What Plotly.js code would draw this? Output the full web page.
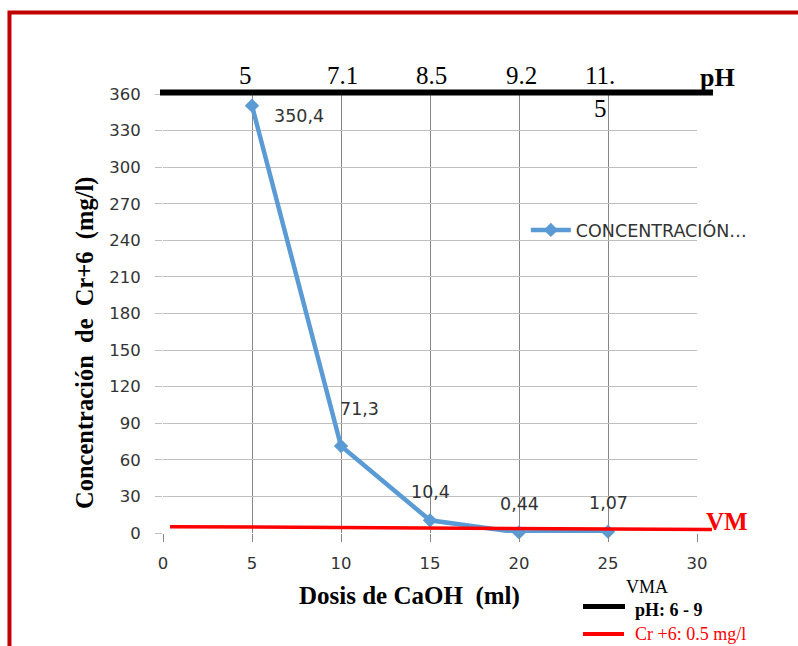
<!DOCTYPE html>
<html>
<head>
<meta charset="utf-8">
<script src="https://cdn.plot.ly/plotly-3.0.1.min.js"></script>
<style>
html,body{margin:0;padding:0;background:#fff;}
#chart{width:798px;height:646px;}
</style>
</head>
<body>
<div id="chart"></div>
<script>
// ---- data ----
const doseMl = [5, 10, 15, 20, 25];
const crConc = [350.4, 71.3, 10.4, 0.44, 1.07];
const phValues = ['5', '7.1', '8.5', '9.2', '11.<br>5'];
const seriesName = 'CONCENTRACIÓN…';
const vmaCrDrawn = [5.2, 2.9];          // red VM line as drawn (left end, right end), mg/l
const xTickVals = [0, 5, 10, 15, 20, 25, 30];
const yTickVals = [0, 30, 60, 90, 120, 150, 180, 210, 240, 270, 300, 330, 360];

// ---- styling helpers ----
const SANS = 'DejaVu Sans';
const SERIF = 'Liberation Serif';
const labelShift = [[46.5, -10.7], [18.5, 37], [0.5, 28], [0, 28.5], [0, 28.7]];
const phShift = [-7, 1.5, 1, 2.5, -8];

const fmt = v => String(v).replace('.', ',');

const trace = {
  type: 'scatter',
  mode: 'lines+markers',
  x: doseMl,
  y: crConc,
  name: seriesName,
  line: {color: '#5B9BD5', width: 4.5},
  marker: {symbol: 'diamond', size: 11, color: '#5B9BD5'},
  cliponaxis: false,
  hoverinfo: 'skip'
};

const annotations = [];
doseMl.forEach((d, i) => {
  annotations.push({
    x: d, y: crConc[i], xref: 'x', yref: 'y',
    text: fmt(crConc[i]), showarrow: false,
    xshift: labelShift[i][0], yshift: labelShift[i][1],
    xanchor: 'center', yanchor: 'middle',
    font: {family: SANS, size: 17.5, color: '#333'}
  });
  annotations.push({
    x: d, y: 1, xref: 'x', yref: 'paper',
    text: phValues[i], showarrow: false,
    xshift: phShift[i], yshift: 34,
    xanchor: 'center', yanchor: 'top',
    font: {family: SERIF, size: 25, color: '#000'}
  });
});

// extra text
annotations.push(
  {x: 1.0375, y: 1.0387, xref: 'paper', yref: 'paper', text: '<b>pH</b>', showarrow: false,
   xanchor: 'center', yanchor: 'middle', font: {family: SERIF, size: 26, color: '#000'}},
  {x: 1.057, y: 0.0251, xref: 'paper', yref: 'paper', text: '<b>VM</b>', showarrow: false,
   xanchor: 'center', yanchor: 'middle', font: {family: SERIF, size: 25, color: '#FF0000'}},
  {x: 0.9064, y: -0.123, xref: 'paper', yref: 'paper', text: 'VMA', showarrow: false,
   xanchor: 'center', yanchor: 'middle', font: {family: SERIF, size: 18, color: '#000'}},
  {x: 0.8801, y: -0.1754, xref: 'paper', yref: 'paper', text: '<b>pH: 6 - 9</b>', showarrow: false,
   xanchor: 'left', yanchor: 'middle', font: {family: SERIF, size: 18, color: '#000'}},
  {x: 0.8801, y: -0.2301, xref: 'paper', yref: 'paper', text: 'Cr +6: 0.5 mg/l', showarrow: false,
   xanchor: 'left', yanchor: 'middle', font: {family: SERIF, size: 18, color: '#FF0000'}},
  {x: -0.1451, y: 0.4317, xref: 'paper', yref: 'paper',
   text: '<b>Concentración\u00A0 de\u00A0 Cr+6\u00A0 (mg/l)</b>', showarrow: false, textangle: -90,
   xanchor: 'center', yanchor: 'middle', font: {family: SERIF, size: 24.5, color: '#000'}},
  {x: 0.4625, y: -0.1435, xref: 'paper', yref: 'paper',
   text: '<b>Dosis de CaOH\u00A0 (ml)</b>', showarrow: false,
   xanchor: 'center', yanchor: 'middle', font: {family: SERIF, size: 25, color: '#000'}}
);

const shapes = [
  // outer red frame
  {type: 'rect', xref: 'paper', yref: 'paper', x0: -0.2875, x1: 1.2303, y0: -0.2893, y1: 1.1856,
   line: {color: '#C00000', width: 4}, fillcolor: 'rgba(0,0,0,0)', layer: 'below'},
  // pH bar at top
  {type: 'line', xref: 'paper', yref: 'paper', x0: -0.0056, x1: 1.03, y0: 1.0034, y1: 1.0034,
   line: {color: '#000', width: 6}},
  // red VM line
  {type: 'line', xref: 'paper', yref: 'y', x0: 0.0131, x1: 1.028, y0: vmaCrDrawn[0], y1: vmaCrDrawn[1],
   line: {color: '#FF0000', width: 3.5}},
  // VMA legend keys
  {type: 'line', xref: 'paper', yref: 'paper', x0: 0.7865, x1: 0.8652, y0: -0.1674, y1: -0.1674,
   line: {color: '#000', width: 5}},
  {type: 'line', xref: 'paper', yref: 'paper', x0: 0.7865, x1: 0.8633, y0: -0.2301, y1: -0.2301,
   line: {color: '#FF0000', width: 4}}
];

const layout = {
  width: 798, height: 646,
  margin: {l: 163, r: 101, t: 94, b: 113, pad: 0},
  paper_bgcolor: '#fff', plot_bgcolor: '#fff',
  showlegend: true,
  legend: {x: 0.6795, y: 0.69, xanchor: 'left', yanchor: 'middle', bgcolor: 'rgba(0,0,0,0)',
           itemwidth: 40,
           font: {family: SANS, size: 17.5, color: '#333'}},
  xaxis: {
    range: [0, 30], tickvals: xTickVals, showgrid: true, gridcolor: '#868686', gridwidth: 1,
    zeroline: false, showline: false, ticks: 'outside', ticklen: 8, tickcolor: '#868686',
    ticklabelstandoff: 7, tickfont: {family: SANS, size: 16.5, color: '#333'}, fixedrange: true
  },
  yaxis: {
    range: [0, 360], tickvals: yTickVals, showgrid: true, gridcolor: '#BFBFBF', gridwidth: 1,
    zeroline: false, showline: false, ticks: 'outside', ticklen: 7, tickcolor: '#BFBFBF',
    ticklabelstandoff: 11, tickfont: {family: SANS, size: 16.5, color: '#333'}, fixedrange: true
  },
  annotations: annotations,
  shapes: shapes,
  hovermode: false
};

Plotly.newPlot('chart', [trace], layout, {displayModeBar: false, staticPlot: true});
</script>
</body>
</html>
